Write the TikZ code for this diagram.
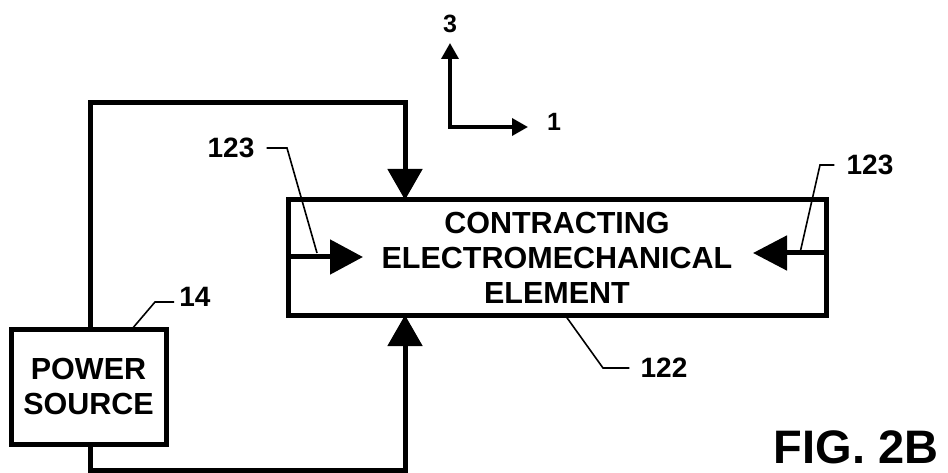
\documentclass[tikz,border=0pt]{standalone}
\usepackage{fontspec}
\setmainfont{Liberation Sans}
\usetikzlibrary{arrows.meta}
\begin{document}
\begin{tikzpicture}[x=1pt,y=-1pt,
  heavy/.style={line width=5pt},
  bigtip/.style={-{Triangle[length=31pt,width=34pt]}},
  axis/.style={line width=3.5pt,{Triangle[length=16pt,width=17pt]}-{Triangle[length=16pt,width=17pt]}},
  leader/.style={line width=1.6pt},
  reflabel/.style={font=\bfseries\fontsize{28}{30}\selectfont, inner sep=0pt},
  axlabel/.style={font=\bfseries\fontsize{25}{30}\selectfont, inner sep=0pt},
  boxnode/.style={draw, line width=5pt, inner sep=0pt, outer sep=0pt, align=center,
    font=\bfseries\fontsize{30.5}{35}\selectfont}]
\useasboundingbox (0,0) rectangle (948,473);
% boxes
\node[boxnode, minimum width=538pt, minimum height=115pt] (elem) at (557,257.5)
  {CONTRACTING\\ELECTROMECHANICAL\\ELEMENT};
\node[boxnode, minimum width=155pt, minimum height=115pt] (power) at (88.5,386.5)
  {POWER\\SOURCE};
% wiring
\coordinate (tl) at (90,103);
\coordinate (tr) at (405,103);
\coordinate (bl) at (90,470);
\coordinate (br) at (405,470);
\draw[heavy, bigtip] (tl |- power.north) -- (tl) -- (tr) -- (tr |- elem.north);
\draw[heavy, bigtip] (bl |- power.south) -- (bl) -- (br) -- (br |- elem.south);
% internal arrows
\coordinate (ltip) at (363,257);
\coordinate (rtip) at (753,253);
\draw[heavy, -{Triangle[length=33pt,width=34pt]}] (elem.west |- ltip) -- (ltip);
\draw[heavy, -{Triangle[length=34pt,width=34pt]}] (elem.east |- rtip) -- (rtip);
% axes
\coordinate (origin) at (450,127);
\coordinate (up) at (450,43);
\coordinate (right) at (528,127);
\draw[axis] (up) -- (origin) -- (right);
\node[axlabel] (ax3) at (450,24) {3};
\node[axlabel] (ax1) at (554,122) {1};
% reference labels
\node[reflabel] (r123a) at (231,148) {123};
\node[reflabel] (r123b) at (870,165) {123};
\node[reflabel] (r14) at (195,297) {14};
\node[reflabel] (r122) at (664,368) {122};
\draw[leader] ([xshift=12pt]r123a.east) -- (287,148) -- (317,253);
\draw[leader] ([xshift=-12pt]r123b.west) -- (820,165) -- (800,253);
\draw[leader] ([xshift=-5pt,yshift=-5pt]r14.west) -- (155,302) -- (132,329);
\draw[leader] ([xshift=-11pt]r122.west) -- (603,368) -- (565,315);
% caption
\node[font=\bfseries\fontsize{47}{50}\selectfont, inner sep=0pt] (fig) at (856,447) {FIG.\ 2B};
\end{tikzpicture}
\end{document}
